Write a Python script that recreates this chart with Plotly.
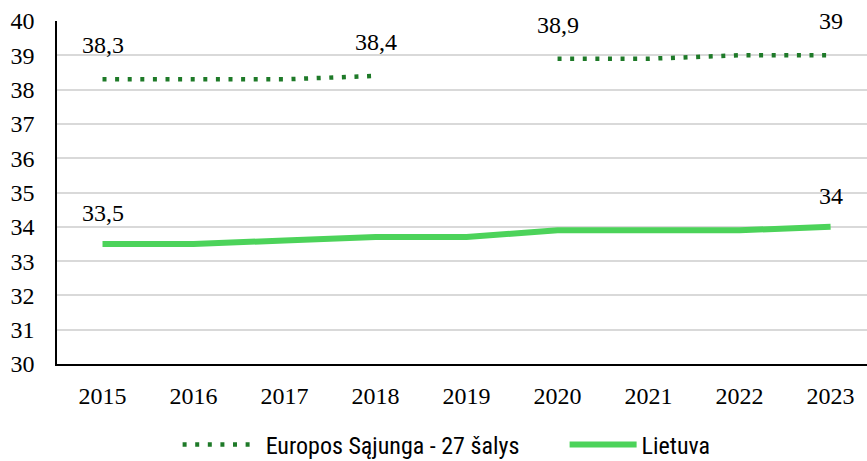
import plotly.graph_objects as go

years = ["2015", "2016", "2017", "2018", "2019", "2020", "2021", "2022", "2023"]
eu_values = [38.3, 38.3, 38.3, 38.4, None, 38.9, 38.9, 39.0, 39.0]
lt_values = [33.5, 33.5, 33.6, 33.7, 33.7, 33.9, 33.9, 33.9, 34.0]
eu_label_idx = [0, 3, 5, 8]
lt_label_idx = [0, 8]
eu_name = "Europos Sąjunga - 27 šalys"
lt_name = "Lietuva"
y_ticks = list(range(30, 41))


def fmt(v):
    s = ("%.1f" % v).rstrip("0").rstrip(".")
    return s.replace(".", ",")


fig = go.Figure()
fig.add_trace(go.Scatter(
    x=years, y=eu_values, mode="lines", name="\u00a0\u00a0" + eu_name,
    line=dict(color="#1E7A28", width=4.5, dash="4px,8.6px"),
    connectgaps=False, legendwidth=305,
))
fig.add_trace(go.Scatter(
    x=years, y=lt_values, mode="lines", name=lt_name,
    line=dict(color="#4CD35A", width=6),
))

serif = "Liberation Serif"
annotations = []
for i in eu_label_idx:
    annotations.append(dict(x=i, y=eu_values[i], xref="x", yref="y",
                            text=fmt(eu_values[i]), showarrow=False, yshift=34, xshift=0,
                            font=dict(family=serif, size=24, color="#000000")))
for i in lt_label_idx:
    annotations.append(dict(x=i, y=lt_values[i], xref="x", yref="y",
                            text=fmt(lt_values[i]), showarrow=False, yshift=31, xshift=0,
                            font=dict(family=serif, size=24, color="#000000")))

fig.update_layout(
    width=867, height=461,
    margin=dict(l=57, r=0, t=21, b=97, autoexpand=False),
    paper_bgcolor="white", plot_bgcolor="white",
    font=dict(family=serif, size=24, color="#000000"),
    annotations=annotations,
    showlegend=True,
    legend=dict(orientation="h", x=0.481, xanchor="center", y=-0.236, yanchor="middle",
                font=dict(family="Roboto Condensed, DejaVu Sans Condensed, Liberation Sans", size=24, color="#000000"),
                itemwidth=67, tracegroupgap=0),
    xaxis=dict(type="category", range=[-0.5, 8.4], showgrid=False,
               showline=True, linecolor="#000000", linewidth=1.5,
               ticks="", ticklabelstandoff=9,
               tickfont=dict(family=serif, size=24, color="#000000")),
    yaxis=dict(range=[30, 40], tickvals=y_ticks, showgrid=True, gridcolor="#D9D9D9", gridwidth=1.5,
               showline=True, linecolor="#000000", linewidth=1.5, zeroline=False,
               ticks="", ticklabelstandoff=16,
               tickfont=dict(family=serif, size=24, color="#000000")),
)

fig.write_html("out.html", config={"displayModeBar": False},
               post_script="document.body.style.margin='0px';")
